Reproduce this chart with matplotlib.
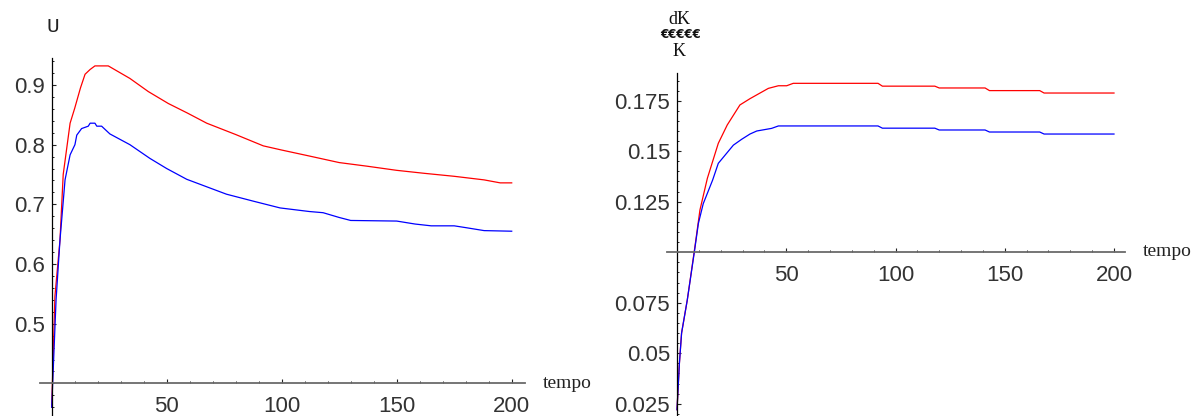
import matplotlib
matplotlib.use("Agg")
import matplotlib.pyplot as plt
from matplotlib.ticker import FixedLocator, MultipleLocator, FuncFormatter

# ---------------- data ----------------
u_red_t = [0, 1.4, 3.6, 5, 8, 10, 12.5, 14.5, 16.7, 18.8, 24.6, 34, 42, 50.7, 59,
           67.4, 80, 92, 100, 112, 125, 137, 150, 162, 175, 188, 195, 200]
u_red = [0.36, 0.546, 0.64, 0.75, 0.836, 0.861, 0.895, 0.918, 0.926, 0.932, 0.932,
         0.911, 0.889, 0.869, 0.853, 0.836, 0.817, 0.798, 0.791, 0.781, 0.770,
         0.764, 0.757, 0.752, 0.747, 0.741, 0.736, 0.736]

u_blue_t = [0, 1.9, 3.6, 5.8, 8, 10.1, 10.9, 13, 15.9, 16.7, 18.8, 19.6, 21.7, 25.3,
            34, 42.7, 50, 58.7, 67, 76, 88, 99.3, 112, 118, 125, 130, 150, 158,
            165, 175, 180, 188, 200]
u_blue = [0.36, 0.54, 0.64, 0.741, 0.783, 0.80, 0.816, 0.827, 0.831, 0.836, 0.836,
          0.831, 0.831, 0.818, 0.80, 0.777, 0.760, 0.742, 0.730, 0.717, 0.705,
          0.694, 0.688, 0.686, 0.678, 0.673, 0.672, 0.667, 0.664, 0.664, 0.661,
          0.656, 0.655]

k_red_t = [0, 1.1, 2.1, 4.7, 8.2, 10.5, 13.9, 18.9, 23, 28.8, 33.4, 41.8, 46.4,
           50.2, 53.2, 92, 94, 118, 120, 141, 143, 166, 168, 200]
k_red = [0.022, 0.045, 0.060, 0.0763, 0.1027, 0.1209, 0.1366, 0.1539, 0.163,
         0.1729, 0.1760, 0.1811, 0.1824, 0.1824, 0.1836, 0.1836, 0.1822, 0.1822,
         0.1813, 0.1813, 0.180, 0.180, 0.1788, 0.1788]

k_blue_t = [0, 1.1, 2.1, 4.7, 7.9, 9.8, 12.0, 16.3, 18.9, 25.8, 29.6, 33.4, 36.5,
            43.3, 46.4, 92, 94, 118, 120, 141, 143, 166, 168, 200]
k_blue = [0.022, 0.045, 0.060, 0.0763, 0.0998, 0.1143, 0.124, 0.1357, 0.144,
          0.153, 0.1559, 0.1585, 0.160, 0.1613, 0.1625, 0.1625, 0.1614, 0.1614,
          0.1605, 0.1605, 0.1595, 0.1595, 0.1585, 0.1585]

x_ticks = [50, 100, 150, 200]
u_yticks = [0.5, 0.6, 0.7, 0.8, 0.9]
k_yticks = [0.025, 0.05, 0.075, 0.125, 0.15, 0.175]

# ---------------- figure ----------------
W, H = 1197, 416
fig = plt.figure(figsize=(W / 100, H / 100), dpi=100)

TICKFONT = dict(family="Liberation Sans", size=16, color="#333333")


def px_axes(x0, x1, ytop, ybot):
    return fig.add_axes([x0 / W, 1 - ybot / H, (x1 - x0) / W, (ybot - ytop) / H])


def style(ax, xcross, ycross, xlim, ylim, yticks, yminor):
    ax.set_xlim(*xlim)
    ax.set_ylim(*ylim)
    for s in ("top", "right"):
        ax.spines[s].set_visible(False)
    ax.spines["left"].set_position(("data", xcross))
    ax.spines["bottom"].set_position(("data", ycross))
    ax.spines["left"].set_color("#000000")
    ax.spines["left"].set_linewidth(0.9)
    ax.spines["bottom"].set_color("#6a6a6a")
    ax.spines["bottom"].set_linewidth(1.3)
    ax.xaxis.set_major_locator(FixedLocator(x_ticks))
    ax.xaxis.set_minor_locator(MultipleLocator(10))
    ax.yaxis.set_major_locator(FixedLocator(yticks))
    ax.yaxis.set_minor_locator(MultipleLocator(yminor))
    fmt = FuncFormatter(lambda v, p: f"{v:g}")
    ax.xaxis.set_major_formatter(fmt)
    ax.yaxis.set_major_formatter(fmt)
    ax.tick_params(which="major", direction="in", length=3.0, width=0.8,
                   color="#222222")
    ax.tick_params(which="minor", direction="in", length=1.6, width=0.7,
                   color="#222222")
    ax.tick_params(axis="y", which="major", pad=5)
    ax.tick_params(axis="x", which="major", pad=9)
    for lab in ax.get_xticklabels() + ax.get_yticklabels():
        lab.set_fontfamily(TICKFONT["family"])
        lab.set_fontsize(TICKFONT["size"])
        lab.set_color(TICKFONT["color"])
    ax.patch.set_visible(False)


# Left plot
axL = px_axes(40, 525, 58, 416)
axL.plot(u_red_t, u_red, color="#ff0000", lw=0.9)
axL.plot(u_blue_t, u_blue, color="#0000ff", lw=0.9)
style(axL, 0, 0.4, ((40 - 51.7) / 2.3, (525 - 51.7) / 2.3),
      (0.5 - (416 - 323.7) / 596.75, 0.5 + (323.7 - 58) / 596.75), u_yticks, 0.02)

# Right plot
axR = px_axes(667, 1125, 73, 416)
axR.plot(k_red_t, k_red, color="#ff0000", lw=0.9)
axR.plot(k_blue_t, k_blue, color="#0000ff", lw=0.9)
style(axR, 0, 0.1, ((667 - 677) / 2.185, (1125 - 677) / 2.185),
      (0.025 - (416 - 403.7) / 2020, 0.025 + (403.7 - 73) / 2020), k_yticks, 0.005)


def ftext(x, y, s, **kw):
    fig.text(x / W, 1 - y / H, s, **kw)


# axis labels
ftext(543, 383, "tempo", family="Liberation Serif", size=14, color="#222222",
      ha="left", va="center")
ftext(1143, 252, "tempo", family="Liberation Serif", size=14, color="#222222",
      ha="left", va="center")
ftext(52.5, 26, "U", family="Liberation Mono", size=15, color="#222222",
      ha="center", va="center")

# garbled fraction label on the right plot
ftext(679, 19, "dK", family="Liberation Serif", size=13, color="#111111",
      ha="center", va="center")
ftext(681, 35, "€€€€€", family="DejaVu Sans", size=8.5, color="#111111",
      ha="center", va="center", fontweight="bold")
ftext(679, 52, "K", family="Liberation Serif", size=13, color="#111111",
      ha="center", va="center")

fig.savefig("out.png", dpi=100)
